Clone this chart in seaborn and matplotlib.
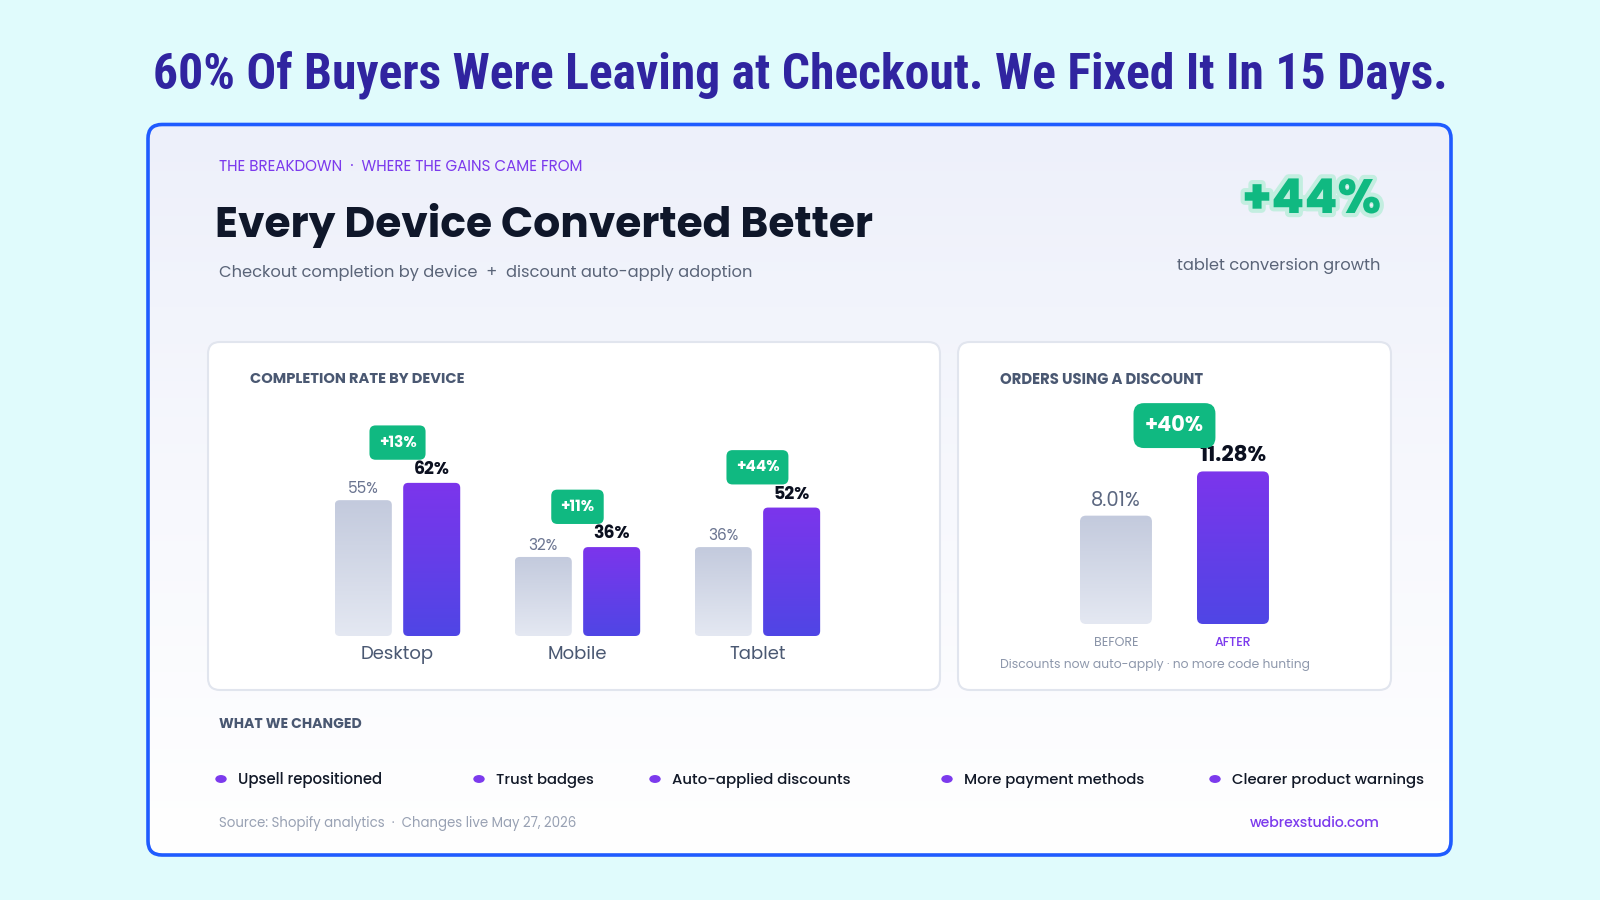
import numpy as np
import pandas as pd
import matplotlib
matplotlib.use("Agg")
import matplotlib.pyplot as plt
import seaborn as sns
from matplotlib.patches import FancyBboxPatch, Ellipse
from matplotlib.colors import LinearSegmentedColormap
from matplotlib import patheffects, font_manager

# ---- data ----
devices = ["Desktop", "Mobile", "Tablet"]
before_rate = [55, 32, 36]
after_rate = [62, 36, 52]
device_lift = ["+13%", "+11%", "+44%"]

discount_periods = ["BEFORE", "AFTER"]
discount_share = [8.01, 11.28]
discount_lift = "+40%"

changes = ["Upsell repositioned", "Trust badges", "Auto-applied discounts",
           "More payment methods", "Clearer product warnings"]

# ---- fonts ----
names = {f.name for f in font_manager.fontManager.ttflist}
title_font = next((n for n in ["Liberation Sans Narrow", "Roboto Condensed", "Roboto"] if n in names), "DejaVu Sans")
body_font = next((n for n in ["Poppins", "Open Sans", "Lato"] if n in names), "DejaVu Sans")

sns.set_style("white")
plt.rcParams["font.family"] = [body_font, "DejaVu Sans"]

PURPLE = "#7C3AED"
GREEN = "#10B981"
SLATE = "#4A5872"

fig = plt.figure(figsize=(16, 9), dpi=100, facecolor="#E0FBFC")
bg = fig.add_axes([0, 0, 1, 1])
bg.set_facecolor("none")
bg.axis("off")

# card with soft vertical gradient
card = FancyBboxPatch((148, 124.5), 1303, 730.5, boxstyle="round,pad=0,rounding_size=14",
                      fc="none", ec="#1F5BFF", lw=2.6, zorder=3)
bg.add_patch(card)
card_cmap = LinearSegmentedColormap.from_list("card", ["#EDF0FA", "#F7F8FD", "#FFFFFF"])
im = bg.imshow(np.linspace(0, 1, 256).reshape(-1, 1), extent=(148, 1451, 855, 124.5),
               cmap=card_cmap, aspect="auto", zorder=1)
im.set_clip_path(card)

for x0, w in [(208, 732), (958, 433)]:
    bg.add_patch(FancyBboxPatch((x0, 342), w, 348, boxstyle="round,pad=0,rounding_size=12",
                                fc="white", ec="#E1E5EE", lw=1.5, zorder=2))
bg.set_xlim(0, 1600)
bg.set_ylim(900, 0)

fits = []


def put(x, y, s, width=None, **kw):
    kw.setdefault("va", "center")
    kw.setdefault("zorder", 5)
    t = bg.text(x, y, s, **kw)
    if width:
        fits.append((t, width))
    return t


put(800, 75, "60% Of Buyers Were Leaving at Checkout. We Fixed It In 15 Days.", 1296,
    ha="center", fontsize=36, fontweight="bold", color="#3024A0", family=[title_font, "DejaVu Sans"])
put(219, 167, "THE BREAKDOWN  ·  WHERE THE GAINS CAME FROM", 365, fontsize=11, color=PURPLE)
put(215, 226, "Every Device Converted Better", 659, fontsize=30, fontweight="bold", color="#0F172A")
put(219, 273, "Checkout completion by device  +  discount auto-apply adoption", 533,
    fontsize=13, color="#5A6478")
put(1381, 202, "+44%", 138, ha="right", fontsize=36, fontweight="heavy", color=GREEN,
    path_effects=[patheffects.withStroke(linewidth=6, foreground="#C3EEE0")])
put(1380, 266, "tablet conversion growth", 203, ha="right", fontsize=13, color="#5A6478")

put(250, 380, "COMPLETION RATE BY DEVICE", 216, fontsize=11, fontweight="bold", color=SLATE)
put(1000, 380, "ORDERS USING A DISCOUNT", 204, fontsize=11, fontweight="bold", color=SLATE)
put(1000, 665, "Discounts now auto-apply · no more code hunting", 312, fontsize=10, color="#8E98AC")

put(219, 725, "WHAT WE CHANGED", 143, fontsize=11, fontweight="bold", color=SLATE)
dot_x = [221, 479, 655, 947, 1215]
text_w = [144, 98, 179, 181, 192]
for dx, label, tw in zip(dot_x, changes, text_w):
    bg.add_patch(Ellipse((dx, 779), 10, 6.5, color=PURPLE, zorder=5))
    put(dx + 17, 780.5, label, tw, fontsize=12, color="#111827", fontweight="medium")

put(219, 823.5, "Source: Shopify analytics  ·  Changes live May 27, 2026", 360, fontsize=10, color="#98A1B3")
put(1380, 823.5, "webrexstudio.com", 131, ha="right", fontsize=11, color=PURPLE, fontweight="medium")


def fx(px):
    return px / 1600


def fy(py):
    return 1 - py / 900


before_cmap = LinearSegmentedColormap.from_list("before", ["#E4E8F2", "#C3CADD"])
after_cmap = LinearSegmentedColormap.from_list("after", ["#4F46E5", "#7C35EC"])


def paint(ax, bar, cmap, radius=5):
    p0 = ax.transData.transform((0, 0))
    p1 = ax.transData.transform((1, 1))
    ppx, ppy = p1[0] - p0[0], p1[1] - p0[1]
    x0, y0, w, h = bar.get_x(), bar.get_y(), bar.get_width(), bar.get_height()
    shape = FancyBboxPatch((x0, y0), w, h, boxstyle=f"round,pad=0,rounding_size={radius / ppx}",
                           mutation_aspect=ppx / ppy, transform=ax.transData)
    g = ax.imshow(np.linspace(0, 1, 256).reshape(-1, 1), extent=(x0, x0 + w, y0, y0 + h),
                  origin="lower", cmap=cmap, aspect="auto", zorder=2)
    g.set_clip_path(shape)
    bar.set_facecolor("none")
    bar.set_edgecolor("none")


# ---- completion rate by device ----
df = pd.DataFrame({
    "device": devices * 2,
    "period": ["Before"] * 3 + ["After"] * 3,
    "rate": before_rate + after_rate,
})
ax1 = fig.add_axes([fx(280), fy(636), 600 / 1600, 236 / 900])
sns.barplot(data=df, x="device", y="rate", hue="period", hue_order=["Before", "After"],
            palette=["#C9CFE0", "#6A3CEB"], width=0.76, gap=0.166, legend=False, ax=ax1)
ax1.set_xlim(-0.653, 2.681)
ax1.set_ylim(0, 95.55)
bars = sorted(ax1.patches, key=lambda b: b.get_x())
for i in range(len(devices)):
    b, a = bars[2 * i], bars[2 * i + 1]
    paint(ax1, b, before_cmap)
    paint(ax1, a, after_cmap)
    bc = b.get_x() + b.get_width() / 2
    ac = a.get_x() + a.get_width() / 2
    ax1.annotate(f"{before_rate[i]}%", (bc, b.get_height()), xytext=(0, 8), textcoords="offset points",
                 ha="center", va="center", fontsize=11, color="#6B7591", annotation_clip=False)
    ax1.annotate(f"{after_rate[i]}%", (ac, a.get_height()), xytext=(0, 9.4), textcoords="offset points",
                 ha="center", va="center", fontsize=12.5, fontweight="bold", color="#0B1020",
                 annotation_clip=False)
    ax1.annotate(device_lift[i], ((bc + ac) / 2, a.get_height()), xytext=(0, 29), textcoords="offset points",
                 ha="center", va="center", fontsize=11, fontweight="bold", color="white",
                 annotation_clip=False,
                 bbox=dict(boxstyle="round,pad=0.6,rounding_size=0.4", fc=GREEN, ec="none"))
ax1.set_xlim(-0.653, 2.681)
ax1.set_ylim(0, 95.55)
ax1.set_facecolor("none")
ax1.set(xlabel="", ylabel="", yticks=[])
ax1.tick_params(axis="x", length=0, pad=7, labelsize=13, labelcolor=SLATE)
sns.despine(ax=ax1, left=True, bottom=True)

# ---- orders using a discount ----
ax2 = fig.add_axes([fx(1000), fy(624), 350 / 1600, 224 / 900])
sns.barplot(x=discount_periods, y=discount_share, hue=discount_periods,
            palette=["#C9CFE0", "#6A3CEB"], width=0.615, legend=False, ax=ax2)
ax2.set_xlim(-0.991, 2.0)
ax2.set_ylim(0, 16.56)
dbars = sorted(ax2.patches, key=lambda b: b.get_x())
paint(ax2, dbars[0], before_cmap, radius=6)
paint(ax2, dbars[1], after_cmap, radius=6)
c0 = dbars[0].get_x() + dbars[0].get_width() / 2
c1 = dbars[1].get_x() + dbars[1].get_width() / 2
ax2.annotate(f"{discount_share[0]:.2f}%", (c0, dbars[0].get_height()), xytext=(0, 10.8),
             textcoords="offset points", ha="center", va="center", fontsize=14, color="#5B6780",
             annotation_clip=False)
ax2.annotate(f"{discount_share[1]:.2f}%", (c1, dbars[1].get_height()), xytext=(0, 11.2),
             textcoords="offset points", ha="center", va="center", fontsize=15.5, fontweight="bold",
             color="#0B1020", annotation_clip=False)
ax2.annotate(discount_lift, ((c0 + c1) / 2, dbars[1].get_height()), xytext=(0, 33),
             textcoords="offset points", ha="center", va="center", fontsize=15, fontweight="bold",
             color="white", annotation_clip=False,
             bbox=dict(boxstyle="round,pad=0.55,rounding_size=0.5", fc=GREEN, ec="none"))
ax2.set_xlim(-0.991, 2.0)
ax2.set_ylim(0, 16.56)
ax2.set_facecolor("none")
ax2.set(xlabel="", ylabel="", yticks=[])
ax2.tick_params(axis="x", length=0, pad=9, labelsize=9)
for lbl, col in zip(ax2.get_xticklabels(), ["#8A94A8", PURPLE]):
    lbl.set_color(col)
ax2.get_xticklabels()[1].set_fontweight("medium")
sns.despine(ax=ax2, left=True, bottom=True)

# scale text so widths match the reference
fig.canvas.draw()
r = fig.canvas.get_renderer()
for t, w in fits:
    cur = t.get_window_extent(r).width
    t.set_fontsize(t.get_fontsize() * w / cur)

fig.savefig("out.png", dpi=100, facecolor=fig.get_facecolor())
